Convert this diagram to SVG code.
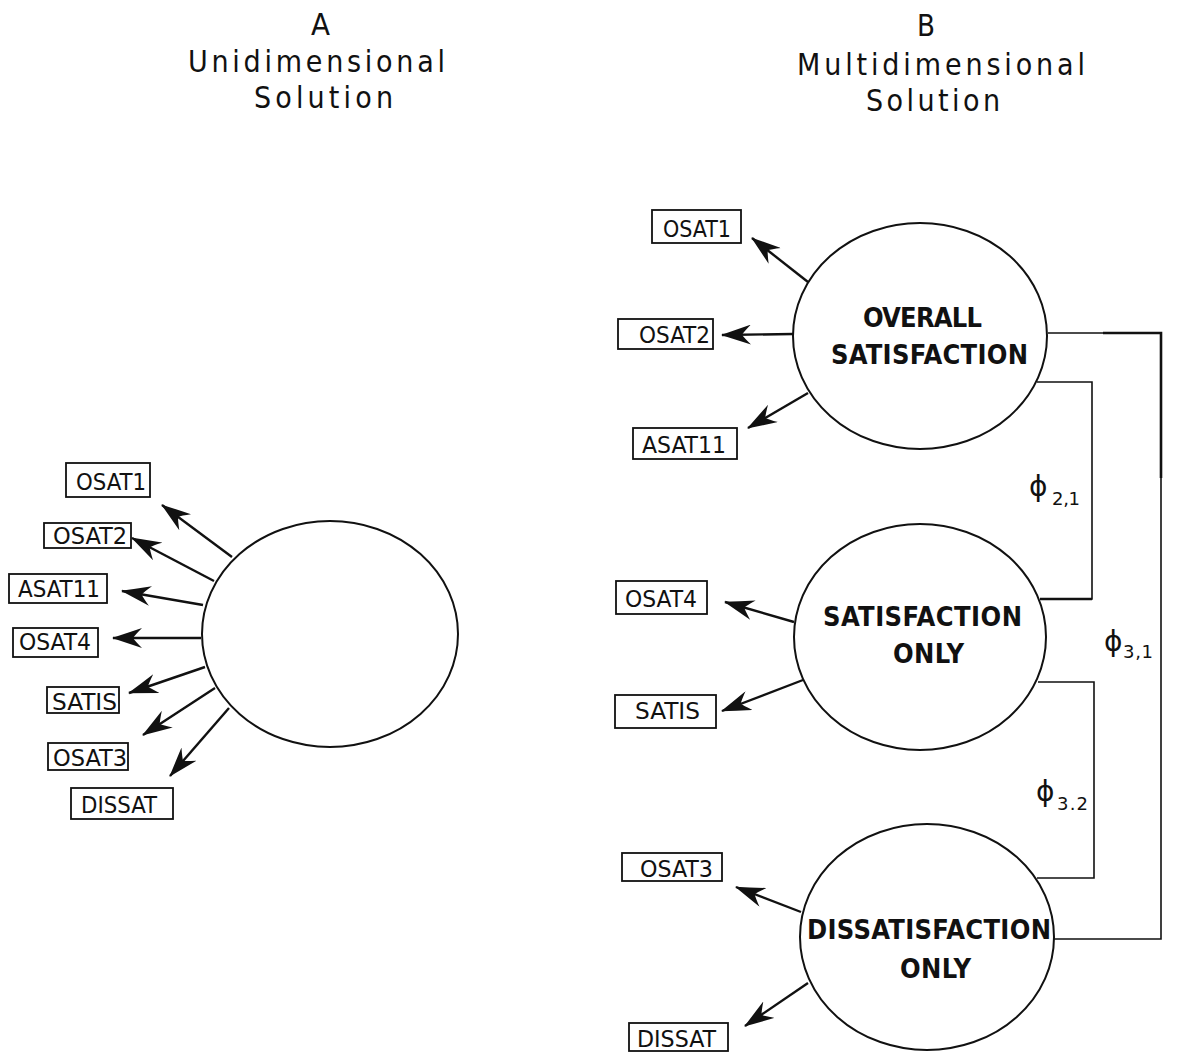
<svg xmlns="http://www.w3.org/2000/svg" width="1195" height="1052" viewBox="0 0 1195 1052">
<style>
.title{font-family:"DejaVu Sans Condensed","DejaVu Sans",sans-serif;font-size:30px;fill:#111}
.box rect{fill:#fff;stroke:#111;stroke-width:1.8}
.box text{font-family:"DejaVu Sans Condensed","DejaVu Sans",sans-serif;font-size:23px;fill:#111}
.ell ellipse{fill:#fff;stroke:#111;stroke-width:2}
.ell text{font-family:"DejaVu Sans Condensed","DejaVu Sans",sans-serif;font-weight:bold;font-size:27px;fill:#111}
.arr{stroke:#111;stroke-width:2.4;fill:none;marker-end:url(#ah)}
.cov{stroke:#111;stroke-width:1.6;fill:none}
.phi{font-family:"DejaVu Sans",sans-serif;font-size:28px;fill:#111}
.sub{font-family:"DejaVu Sans",sans-serif;font-size:18px;fill:#111}
</style>
<defs>
<marker id="ah" markerUnits="userSpaceOnUse" viewBox="0 0 30 20" markerWidth="30" markerHeight="20" refX="29" refY="10" orient="auto">
<path d="M30,10 Q15,5 0,0 Q7,7 9,10 Q7,13 0,20 Q15,15 30,10 Z" fill="#111"/>
</marker>
</defs>
<rect width="1195" height="1052" fill="#fff"/>

<g id="titles">
<text class="title" x="311" y="35" textLength="19" lengthAdjust="spacingAndGlyphs">A</text>
<text class="title" x="188" y="72" textLength="257" lengthAdjust="spacing">Unidimensional</text>
<text class="title" x="254" y="108" textLength="139" lengthAdjust="spacing">Solution</text>
<text class="title" x="917" y="36" textLength="18" lengthAdjust="spacingAndGlyphs">B</text>
<text class="title" x="797" y="75" textLength="288" lengthAdjust="spacing">Multidimensional</text>
<text class="title" x="866" y="111" textLength="134" lengthAdjust="spacing">Solution</text>
</g>

<g id="connectors">
<!-- left panel -->
<line class="arr" x1="232" y1="557" x2="162" y2="505"/>
<line class="arr" x1="214" y1="581" x2="132" y2="538"/>
<line class="arr" x1="203" y1="605" x2="122" y2="591"/>
<line class="arr" x1="201" y1="638" x2="113" y2="638"/>
<line class="arr" x1="205" y1="667" x2="129" y2="693"/>
<line class="arr" x1="215" y1="688" x2="143" y2="735"/>
<line class="arr" x1="229" y1="708" x2="170" y2="776"/>
<!-- right panel -->
<line class="arr" x1="808" y1="282" x2="752" y2="238"/>
<line class="arr" x1="793" y1="334" x2="722" y2="335"/>
<line class="arr" x1="808" y1="393" x2="748" y2="428"/>
<line class="arr" x1="794" y1="622" x2="725" y2="602"/>
<line class="arr" x1="803" y1="680" x2="722" y2="711"/>
<line class="arr" x1="801" y1="912" x2="736" y2="887"/>
<line class="arr" x1="808" y1="983" x2="745" y2="1026"/>
<!-- covariances -->
<path class="cov" d="M1037,382 L1092,382 L1092,599 L1040,599"/>
<path d="M1040,599 L1092,599" stroke="#111" stroke-width="2.4" fill="none"/>
<path class="cov" d="M1038,682 L1094,682 L1094,878 L1037,878"/>
<path class="cov" d="M1048,333 L1161,333 L1161,939 L1054,939"/>
<path d="M1103,333 L1161,333 L1161,478" stroke="#111" stroke-width="2.6" fill="none"/>
<text class="phi" x="1029" y="496">ϕ</text>
<text class="sub" x="1052" y="505" textLength="28" lengthAdjust="spacing">2,1</text>
<text class="phi" x="1104" y="651">ϕ</text>
<text class="sub" x="1123" y="658" textLength="30" lengthAdjust="spacing">3,1</text>
<text class="phi" x="1036" y="801">ϕ</text>
<text class="sub" x="1057" y="810" textLength="31" lengthAdjust="spacing">3.2</text>
</g>

<g id="factor-uni" class="ell">
<ellipse cx="330" cy="634" rx="128" ry="113"/>
</g>
<g id="factor-overall" class="ell">
<ellipse cx="920" cy="336" rx="127" ry="113"/>
<text x="863" y="327" textLength="119" lengthAdjust="spacing">OVERALL</text>
<text x="831" y="364" textLength="197" lengthAdjust="spacing">SATISFACTION</text>
</g>
<g id="factor-sat" class="ell">
<ellipse cx="920" cy="637" rx="126" ry="113"/>
<text x="823" y="626" textLength="199" lengthAdjust="spacing">SATISFACTION</text>
<text x="893" y="663" textLength="71" lengthAdjust="spacing">ONLY</text>
</g>
<g id="factor-dissat" class="ell">
<ellipse cx="927" cy="937" rx="127" ry="113"/>
<text x="807" y="939" textLength="244" lengthAdjust="spacing">DISSATISFACTION</text>
<text x="900" y="978" textLength="71" lengthAdjust="spacing">ONLY</text>
</g>

<!-- left indicators -->
<g id="a-osat1" class="box"><rect x="66" y="463" width="84" height="34"/><text x="76" y="490" textLength="70" lengthAdjust="spacingAndGlyphs">OSAT1</text></g>
<g id="a-osat2" class="box"><rect x="44" y="523" width="87" height="25"/><text x="53" y="544" textLength="74" lengthAdjust="spacingAndGlyphs">OSAT2</text></g>
<g id="a-asat11" class="box"><rect x="9" y="574" width="98" height="29"/><text x="18" y="597" textLength="82" lengthAdjust="spacingAndGlyphs">ASAT11</text></g>
<g id="a-osat4" class="box"><rect x="13" y="628" width="85" height="29"/><text x="19" y="650" textLength="72" lengthAdjust="spacingAndGlyphs">OSAT4</text></g>
<g id="a-satis" class="box"><rect x="47" y="687" width="72" height="26"/><text x="52" y="710" textLength="65" lengthAdjust="spacingAndGlyphs">SATIS</text></g>
<g id="a-osat3" class="box"><rect x="48" y="743" width="80" height="27"/><text x="53" y="766" textLength="74" lengthAdjust="spacingAndGlyphs">OSAT3</text></g>
<g id="a-dissat" class="box"><rect x="71" y="788" width="102" height="31"/><text x="81" y="813" textLength="76" lengthAdjust="spacingAndGlyphs">DISSAT</text></g>

<!-- right indicators -->
<g id="b-osat1" class="box"><rect x="652" y="210" width="89" height="33"/><text x="663" y="237" textLength="68" lengthAdjust="spacingAndGlyphs">OSAT1</text></g>
<g id="b-osat2" class="box"><rect x="618" y="319" width="95" height="30"/><text x="639" y="343" textLength="71" lengthAdjust="spacingAndGlyphs">OSAT2</text></g>
<g id="b-asat11" class="box"><rect x="633" y="428" width="104" height="31"/><text x="642" y="453" textLength="84" lengthAdjust="spacingAndGlyphs">ASAT11</text></g>
<g id="b-osat4" class="box"><rect x="616" y="581" width="91" height="33"/><text x="625" y="607" textLength="72" lengthAdjust="spacingAndGlyphs">OSAT4</text></g>
<g id="b-satis" class="box"><rect x="615" y="695" width="101" height="33"/><text x="635" y="719" textLength="65" lengthAdjust="spacingAndGlyphs">SATIS</text></g>
<g id="b-osat3" class="box"><rect x="622" y="853" width="100" height="28"/><text x="640" y="877" textLength="73" lengthAdjust="spacingAndGlyphs">OSAT3</text></g>
<g id="b-dissat" class="box"><rect x="629" y="1023" width="99" height="28"/><text x="637" y="1047" textLength="79" lengthAdjust="spacingAndGlyphs">DISSAT</text></g>
</svg>
